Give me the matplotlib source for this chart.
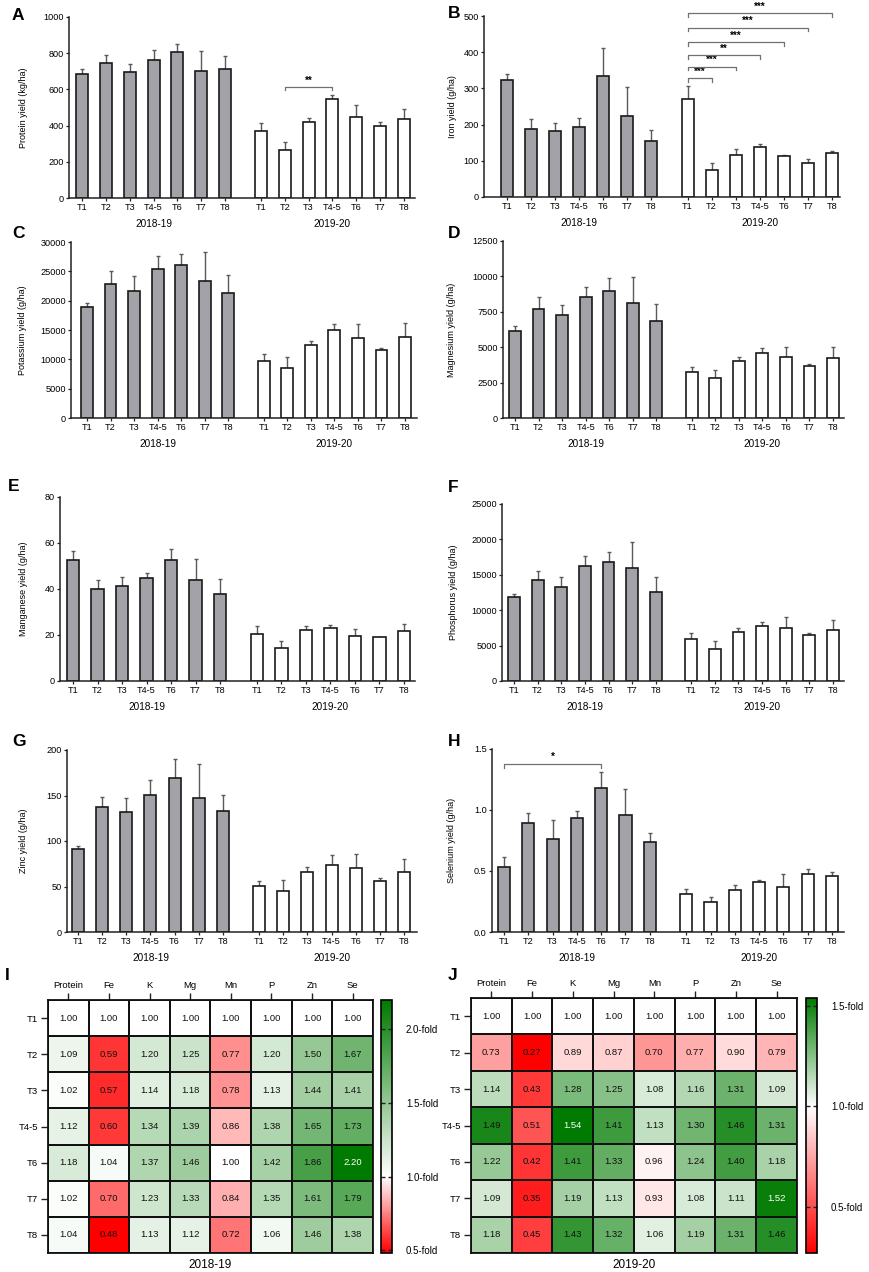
import numpy as np
import matplotlib
matplotlib.use("Agg")
import matplotlib.pyplot as plt
from matplotlib.colors import LinearSegmentedColormap, Normalize

plt.rcParams['font.family'] = ['Liberation Sans', 'DejaVu Sans']

treatments = ["T1", "T2", "T3", "T4-5", "T6", "T7", "T8"]
seasons = ["2018-19", "2019-20"]

# bar heights (mean) and top of error bar, per season
protein_18 = [685, 748, 697, 765, 805, 700, 710]
protein_18_top = [710, 790, 740, 818, 852, 810, 782]
protein_19 = [368, 266, 420, 548, 450, 400, 435]
protein_19_top = [415, 310, 442, 568, 515, 420, 492]

iron_18 = [323, 189, 183, 194, 335, 225, 155]
iron_18_top = [341, 215, 204, 219, 412, 305, 186]
iron_19 = [272, 74, 116, 139, 114, 95, 121]
iron_19_top = [307, 95, 132, 146, 117, 105, 128]

potassium_18 = [18960, 22860, 21670, 25410, 26030, 23370, 21390]
potassium_18_top = [19525, 25010, 24220, 27670, 27950, 28300, 24390]
potassium_19 = [9680, 8600, 12390, 15000, 13700, 11600, 13870]
potassium_19_top = [10980, 10410, 13190, 16070, 16070, 11880, 16130]

magnesium_18 = [6110, 7710, 7240, 8530, 9000, 8150, 6880]
magnesium_18_top = [6530, 8510, 7990, 9260, 9915, 9985, 8035]
magnesium_19 = [3220, 2800, 4040, 4580, 4300, 3640, 4250]
magnesium_19_top = [3595, 3360, 4320, 4910, 5030, 3780, 5030]

manganese_18 = [52.5, 40.2, 41.1, 45.0, 52.4, 44.0, 37.8]
manganese_18_top = [56.4, 43.8, 45.1, 47.0, 57.6, 53.0, 44.4]
manganese_19 = [20.5, 14.3, 22.0, 23.0, 19.7, 19.0, 21.7]
manganese_19_top = [24.0, 17.4, 24.0, 24.5, 22.6, 19.2, 24.7]

phosphorus_18 = [11840, 14230, 13340, 16290, 16760, 15960, 12550]
phosphorus_18_top = [12220, 15540, 14750, 17700, 18160, 19600, 14700]
phosphorus_19 = [5990, 4590, 6930, 7770, 7490, 6510, 7160]
phosphorus_19_top = [6830, 5620, 7540, 8380, 9040, 6840, 8660]

zinc_18 = [91.2, 137.2, 131.4, 150.7, 169.3, 147.4, 133.2]
zinc_18_top = [94.2, 148.2, 147.8, 166.8, 189.8, 184.7, 150.4]
zinc_19 = [50.7, 45.6, 66.0, 74.0, 70.8, 56.2, 66.4]
zinc_19_top = [55.8, 56.6, 71.9, 85.0, 86.1, 58.8, 79.9]

selenium_18 = [0.534, 0.896, 0.759, 0.932, 1.181, 0.962, 0.737]
selenium_18_top = [0.616, 0.978, 0.918, 0.992, 1.312, 1.170, 0.814]
selenium_19 = [0.315, 0.250, 0.342, 0.411, 0.370, 0.479, 0.460]
selenium_19_top = [0.353, 0.290, 0.386, 0.430, 0.479, 0.518, 0.493]

# fold changes relative to T1
elements = ["Protein", "Fe", "K", "Mg", "Mn", "P", "Zn", "Se"]
fold_1819 = [
    [1.00, 1.00, 1.00, 1.00, 1.00, 1.00, 1.00, 1.00],
    [1.09, 0.59, 1.20, 1.25, 0.77, 1.20, 1.50, 1.67],
    [1.02, 0.57, 1.14, 1.18, 0.78, 1.13, 1.44, 1.41],
    [1.12, 0.60, 1.34, 1.39, 0.86, 1.38, 1.65, 1.73],
    [1.18, 1.04, 1.37, 1.46, 1.00, 1.42, 1.86, 2.20],
    [1.02, 0.70, 1.23, 1.33, 0.84, 1.35, 1.61, 1.79],
    [1.04, 0.48, 1.13, 1.12, 0.72, 1.06, 1.46, 1.38],
]
fold_1920 = [
    [1.00, 1.00, 1.00, 1.00, 1.00, 1.00, 1.00, 1.00],
    [0.73, 0.27, 0.89, 0.87, 0.70, 0.77, 0.90, 0.79],
    [1.14, 0.43, 1.28, 1.25, 1.08, 1.16, 1.31, 1.09],
    [1.49, 0.51, 1.54, 1.41, 1.13, 1.30, 1.46, 1.31],
    [1.22, 0.42, 1.41, 1.33, 0.96, 1.24, 1.40, 1.18],
    [1.09, 0.35, 1.19, 1.13, 0.93, 1.08, 1.11, 1.52],
    [1.18, 0.45, 1.43, 1.32, 1.06, 1.19, 1.31, 1.46],
]

W, H = 870, 1272
fig = plt.figure(figsize=(W / 100, H / 100), dpi=100)


def px_axes(left, top, right, bottom):
    return fig.add_axes([left / W, 1 - bottom / H, (right - left) / W, (bottom - top) / H])


def panel_letter(x, y, letter):
    fig.text(x / W, 1 - y / H, letter, fontsize=12.5, fontweight="bold", va="center")


def bar_panel(box, data, ylabel, ymax, step, label_x, fmt="{:g}", brackets=()):
    spine_l, t1, t8, spine_r, top, bottom = box
    s = (t8 - t1) / 13.5
    ax = px_axes(spine_l, top, spine_r, bottom)
    m18, t18, m19, t19 = [np.array(d, dtype=float) for d in data]
    x18 = np.arange(7)
    x19 = np.arange(7) + 7.5
    for x, m, t, fc in [(x18, m18, t18, "#a2a2a8"), (x19, m19, t19, "white")]:
        yerr = np.vstack([np.zeros_like(m), t - m])
        ax.errorbar(x, m, yerr=yerr, fmt="none", ecolor="#5a5a5a", elinewidth=1.0,
                    capsize=1.5, capthick=1.0, zorder=1)
        ax.bar(x, m, width=0.5, color=fc, edgecolor="#1a1a1a", linewidth=1.2, zorder=2)
    ax.set_xlim((spine_l - t1) / s, (spine_r - t1) / s)
    ax.set_ylim(0, ymax)
    ticks = np.arange(0, ymax + step / 2, step)
    ax.set_yticks(ticks)
    ax.set_yticklabels([fmt.format(t) for t in ticks])
    ax.set_xticks(np.concatenate([x18, x19]))
    ax.set_xticklabels(treatments * 2)
    for sp in ["top", "right"]:
        ax.spines[sp].set_visible(False)
    for sp in ["left", "bottom"]:
        ax.spines[sp].set_linewidth(1.1)
        ax.spines[sp].set_color("#222222")
    ax.tick_params(labelsize=6.6, length=2.5, width=0.9, pad=1.2, color="#222222")
    ax.set_ylabel(ylabel, fontsize=6.5)
    ax.yaxis.set_label_coords((label_x - spine_l) / (spine_r - spine_l), 0.5)
    for g, xc in enumerate([t1 + 3 * s, t1 + 10.5 * s]):
        fig.text(xc / W, 1 - (bottom + 26) / H, seasons[g], ha="center", va="center",
                 fontsize=7.2)
    for xa, xb, yb, dy, stars in brackets:
        ax.plot([xa, xa, xb, xb], [yb - dy, yb, yb, yb - dy], color="#707070", lw=0.9,
                clip_on=False, zorder=3)
        ax.text((xa + xb) / 2, yb + dy * 0.4, stars, ha="center", va="bottom",
                fontsize=7, fontweight="bold", clip_on=False)
    return ax


lx = 12
rx = 448
bar_panel((69, 82, 404, 415, 17, 198),
          (protein_18, protein_18_top, protein_19, protein_19_top),
          "Protein yield (kg/ha)", 1000, 200, 28,
          brackets=[(8.5, 10.5, 612, 18, "**")])
panel_letter(lx, 15, "A")

iron_brackets = [(7.5, 8.5, 328, 10, "***"), (7.5, 9.5, 360, 10, "***"),
                 (7.5, 10.5, 392, 10, "**"), (7.5, 11.5, 428, 10, "***"),
                 (7.5, 12.5, 468, 10, "***"), (7.5, 13.5, 508, 10, "***")]
bar_panel((484, 507, 832, 840, 16, 197),
          (iron_18, iron_18_top, iron_19, iron_19_top),
          "Iron yield (g/ha)", 500, 100, 457, brackets=iron_brackets)
panel_letter(rx, 14, "B")

bar_panel((71, 87, 405, 417, 242, 418),
          (potassium_18, potassium_18_top, potassium_19, potassium_19_top),
          "Potassium yield (g/ha)", 30000, 5000, 27)
panel_letter(lx, 233, "C")

bar_panel((503, 515, 833, 844, 241, 418),
          (magnesium_18, magnesium_18_top, magnesium_19, magnesium_19_top),
          "Magnesium yield (g/ha)", 12500, 2500, 456)
panel_letter(rx, 233, "D")

bar_panel((60, 73, 404, 415, 497, 681),
          (manganese_18, manganese_18_top, manganese_19, manganese_19_top),
          "Manganese yield (g/ha)", 80, 20, 28)
panel_letter(8, 487, "E")

bar_panel((502, 514, 833, 844, 504, 681),
          (phosphorus_18, phosphorus_18_top, phosphorus_19, phosphorus_19_top),
          "Phosphorus yield (g/ha)", 25000, 5000, 458)
panel_letter(rx, 488, "F")

bar_panel((67, 78, 404, 417, 750, 932),
          (zinc_18, zinc_18_top, zinc_19, zinc_19_top),
          "Zinc yield (g/ha)", 200, 50, 28)
panel_letter(lx, 742, "G")

bar_panel((492, 504, 832, 844, 749, 932),
          (selenium_18, selenium_18_top, selenium_19, selenium_19_top),
          "Selenium yield (g/ha)", 1.5, 0.5, 456, fmt="{:.1f}",
          brackets=[(0, 4, 1.378, 0.036, "*")])
panel_letter(rx, 742, "H")


def heat_panel(box, cbox, vals, ticks, season, title_y):
    vals = np.array(vals)
    vmin, vmax = vals.min(), vals.max()
    p = (1.0 - vmin) / (vmax - vmin)
    cmap = LinearSegmentedColormap.from_list(
        "fold", [(0.0, "#ff0000"), (p, "#ffffff"), (1.0, "#007a00")])
    norm = Normalize(vmin, vmax)
    ax = px_axes(*box)
    mesh = ax.pcolormesh(vals, cmap=cmap, norm=norm, edgecolors="#111111", linewidth=1.3)
    ax.set_xlim(0, vals.shape[1])
    ax.set_ylim(vals.shape[0], 0)
    for i in range(vals.shape[0]):
        for j in range(vals.shape[1]):
            v = vals[i, j]
            c = "white" if norm(v) > 0.97 else "#111111"
            ax.text(j + 0.5, i + 0.5, f"{v:.2f}", ha="center", va="center", fontsize=6.8, color=c)
    ax.set_xticks(np.arange(vals.shape[1]) + 0.5)
    ax.set_xticklabels(elements)
    ax.set_yticks(np.arange(vals.shape[0]) + 0.5)
    ax.set_yticklabels(treatments)
    ax.xaxis.tick_top()
    ax.tick_params(labelsize=6.8, length=5, width=1.0, pad=2, color="#222222")
    for sp in ax.spines.values():
        sp.set_linewidth(1.3)
        sp.set_color("#111111")
    cax = px_axes(*cbox)
    cb = fig.colorbar(mesh, cax=cax)
    cb.set_ticks(ticks)
    cb.set_ticklabels([f"{t:.1f}-fold" for t in ticks])
    cb.outline.set_linewidth(1.2)
    cax.tick_params(labelsize=7, direction="in", length=3, width=1.0, left=True, right=True,
                    pad=10, color="#222222")
    xc = (box[0] + box[2]) / 2
    fig.text(xc / W, 1 - title_y / H, season, ha="center", va="center", fontsize=8.5)


heat_panel((48, 1000, 373, 1253), (381, 1000, 392, 1253), fold_1819,
           [0.5, 1.0, 1.5, 2.0], seasons[0], 1265)
panel_letter(5, 975, "I")

heat_panel((471, 998, 797, 1253), (806, 998, 817, 1253), fold_1920,
           [0.5, 1.0, 1.5], seasons[1], 1265)
panel_letter(rx, 975, "J")

fig.savefig("out.png", dpi=100)
